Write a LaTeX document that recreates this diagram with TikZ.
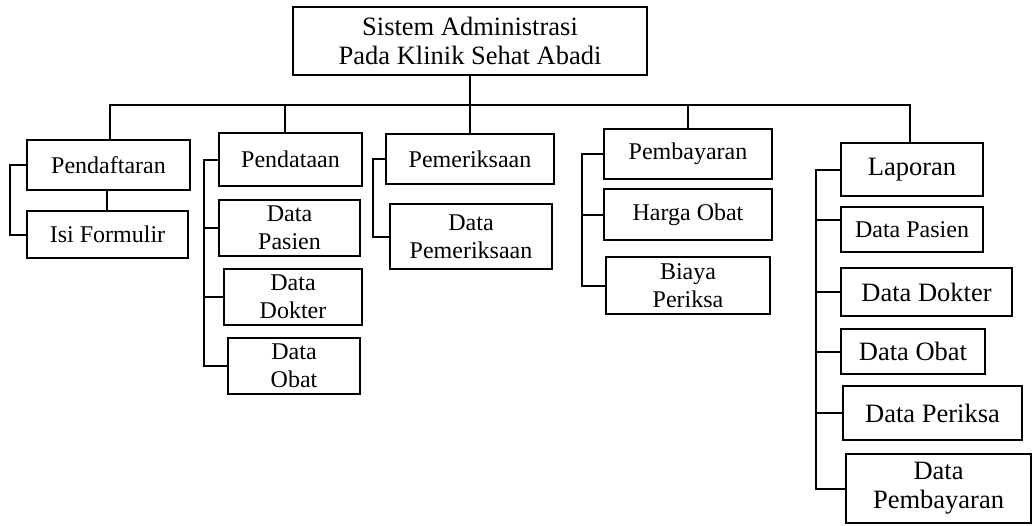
\documentclass[tikz,border=0pt]{standalone}
\usepackage{fontspec}
\setmainfont{Liberation Serif}
\begin{document}
\begin{tikzpicture}[x=1pt,y=-1pt,line width=2pt,
kotak/.style = {draw, rectangle, align=center, inner sep=0pt, font=\fontsize{24}{28}\selectfont},
besar/.style = {kotak, font=\fontsize{26.5}{29}\selectfont},]
\useasboundingbox (0,0) rectangle (1032,525);
\node (judul) at (470,41)[besar, minimum width=354, minimum height=68] {Sistem Administrasi\\Pada Klinik Sehat Abadi};

\node (pendaftaran) at (108.5,165)[kotak, minimum width=163, minimum height=50] {Pendaftaran};
\node (isi) at (107.5,234.5)[kotak, minimum width=161, minimum height=47] {Isi Formulir};

\node (pendataan) at (290.5,159.5)[kotak, minimum width=143, minimum height=53] {Pendataan};
\node (dpasien) at (289.5,228)[kotak, minimum width=141, minimum height=56] {Data\\Pasien};
\node (ddokter) at (293,297)[kotak, minimum width=138, minimum height=56] {Data\\Dokter};
\node (dobat) at (294,366)[kotak, minimum width=132, minimum height=56] {Data\\Obat};

\node (pemeriksaan) at (470,159)[kotak, minimum width=168, minimum height=50] {Pemeriksaan};
\node (dperiksa) at (471,236.5)[kotak, minimum width=162, minimum height=65] {Data\\Pemeriksaan};

\node (pembayaran) at (688,154)[kotak, minimum width=168, minimum height=50] {Pembayaran};
\node (harga) at (688,214.5)[kotak, minimum width=168, minimum height=51] {Harga Obat};
\node (biaya) at (688,285.5)[kotak, minimum width=164, minimum height=57] {Biaya\\Periksa};

\node (laporan) at (912,169.5)[besar, minimum width=142, minimum height=53] {Laporan};
\node (lpasien) at (912,229.5)[kotak, minimum width=142, minimum height=45] {Data Pasien};
\node (ldokter) at (926.5,292)[besar, minimum width=171, minimum height=48] {Data Dokter};
\node (lobat) at (913,351.5)[besar, minimum width=144, minimum height=45] {Data Obat};
\node (lperiksa) at (932.5,413)[besar, minimum width=179, minimum height=54] {Data Periksa};
\node (lbayar) at (938.5,488.5)[besar, minimum width=185, minimum height=69] {Data\\Pembayaran};

\coordinate (bus) at (470,105);
\draw (judul)--(bus);
\draw ([xshift=1.5pt]pendaftaran.north) |- (bus) -| ([xshift=-2pt]laporan.north);
\draw ([xshift=-5.5pt]pendataan.north)--([xshift=-5.5pt]pendataan.north |- bus);
\draw (pemeriksaan)--(pemeriksaan.north |- bus);
\draw (pembayaran)--(pembayaran.north |- bus);

\draw ([xshift=-1.5pt]pendaftaran.south)--([xshift=-1.5pt]pendaftaran.south |- isi.north);
\draw (pendaftaran.west)--++(-16,0) |- (isi.west);

\draw (pendataan.west)--++(-14,0) coordinate (k2) |- (dobat.west);
\draw (dpasien.west)--(dpasien.west -| k2);
\draw (ddokter.west)--(ddokter.west -| k2);

\draw (pemeriksaan.west)--++(-12,0) |- (dperiksa.west);

\draw (pembayaran.west)--++(-21,0) coordinate (k4) |- (biaya.west);
\draw (harga.west)--(harga.west -| k4);

\draw (laporan.west)--++(-24,0) coordinate (k5) |- (lbayar.west);
\draw ([yshift=9.5pt]lpasien.west)--([yshift=9.5pt]lpasien.west -| k5);
\draw (ldokter.west)--(ldokter.west -| k5);
\draw (lobat.west)--(lobat.west -| k5);
\draw (lperiksa.west)--(lperiksa.west -| k5);
\end{tikzpicture}
\end{document}
